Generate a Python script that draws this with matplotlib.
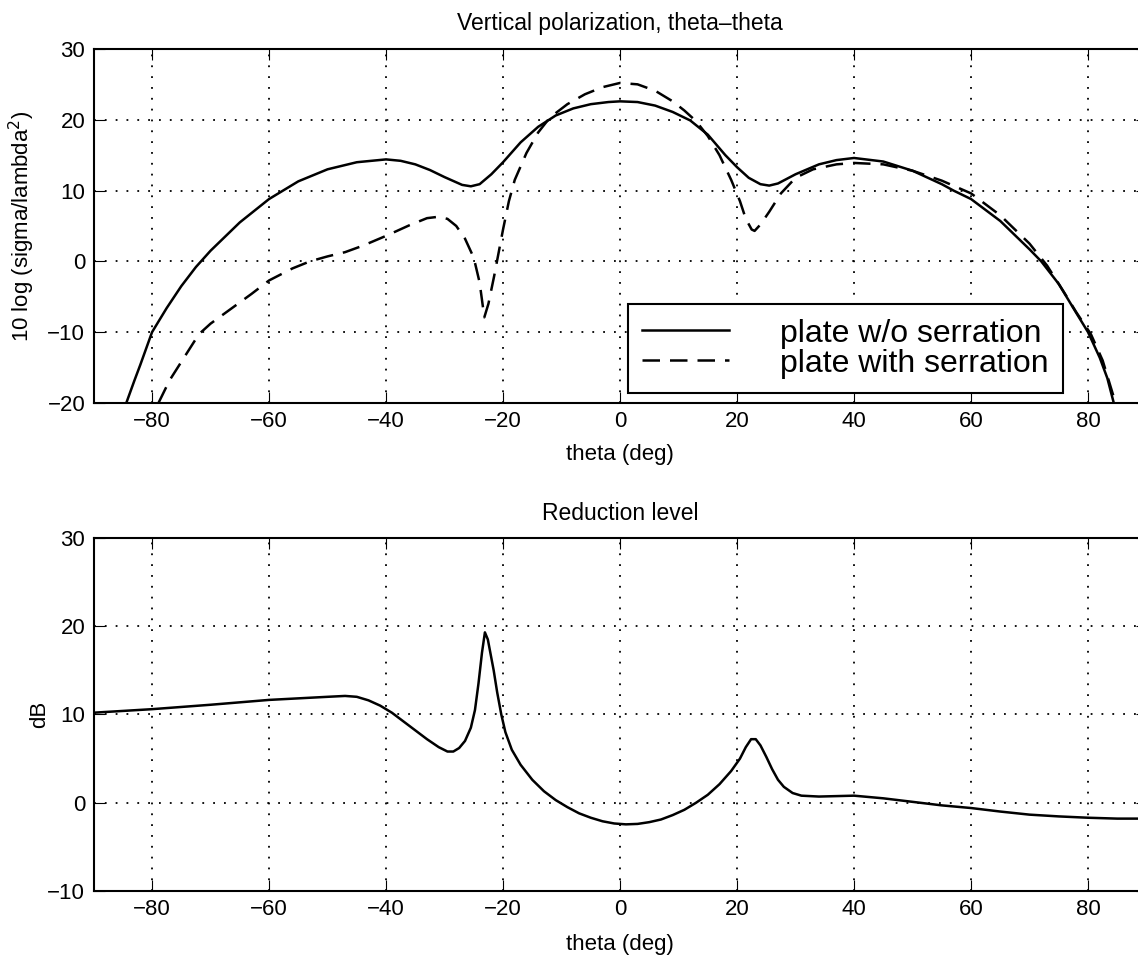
import numpy as np
import matplotlib
matplotlib.use('Agg')
import matplotlib.pyplot as plt
from matplotlib.lines import Line2D

plt.rcParams['font.family'] = ['Liberation Sans', 'DejaVu Sans']
plt.rcParams['font.size'] = 16
plt.rcParams['axes.linewidth'] = 1.5
plt.rcParams['xtick.direction'] = 'in'
plt.rcParams['ytick.direction'] = 'in'
plt.rcParams['xtick.top'] = True
plt.rcParams['ytick.right'] = True
plt.rcParams['xtick.major.size'] = 8
plt.rcParams['ytick.major.size'] = 8
plt.rcParams['xtick.major.pad'] = 6
plt.rcParams['ytick.major.pad'] = 6

# RCS of the plain plate (theta in deg, 10 log(sigma/lambda^2))
th_plain = [-84.4, -83, -82, -80, -77.5, -75, -72.5, -70, -65, -60, -55, -50,
            -45, -40, -37.5, -35, -32.5, -30, -27, -25.5, -24, -22, -20, -17, -14, -11, -8,
            -5, -2, 0, 3, 6, 9, 12, 15, 18, 20, 22, 24, 25.5, 27, 30, 34, 37,
            40, 45, 50, 55, 57, 60, 65, 70, 72, 75, 78, 80, 82, 83.3, 84.4]
val_plain = [-20, -16.8, -14.6, -10, -6.6, -3.5, -0.8, 1.5, 5.5, 8.8, 11.3, 13.0,
             14.0, 14.4, 14.2, 13.7, 12.9, 11.9, 10.8, 10.6, 10.9, 12.3, 14.0, 16.8, 19.0, 20.6, 21.6,
             22.2, 22.5, 22.6, 22.5, 22.0, 21.1, 19.9, 17.9, 15.0, 13.3, 11.8, 10.9, 10.7, 11.0, 12.3, 13.7, 14.3,
             14.6, 14.1, 12.8, 10.9, 10.0, 8.8, 5.7, 1.7, 0.0, -3.2, -7.3, -10.0, -13.6, -16.5, -20]

# RCS of the serrated plate
th_serr = [-78.9, -77, -75, -72, -70, -66, -63, -60, -56, -53, -50, -47, -44,
           -40, -36, -33, -31, -29.5, -28, -26.5, -25, -24, -23.2, -22.5, -21.5,
           -20, -19, -18, -16, -14, -12, -9, -6, -3, 0, 3, 6, 9, 11, 13, 15,
           17, 19, 20.5, 21.5, 22.5, 23, 24, 25.5, 27.5, 30, 33, 37, 40, 45,
           50, 55, 60, 65, 70, 73, 76, 78, 80.5, 82.5, 84.7]
val_serr = [-20, -16.8, -14.2, -10.3, -8.8, -6.4, -4.6, -2.7, -1.0, 0.0, 0.7, 1.3, 2.2,
            3.6, 5.1, 6.1, 6.3, 6.0, 5.0, 3.2, 0.5, -3.0, -7.9, -6.0, -2.0,
            4.5, 8.5, 11.5, 15.3, 18.2, 20.3, 22.2, 23.6, 24.6, 25.2, 25.0, 24.1, 22.6, 21.3, 19.8, 17.7,
            15.0, 11.5, 8.5, 6.0, 4.5, 4.3, 5.2, 7.0, 9.6, 11.8, 13.0, 13.7, 13.9, 13.7,
            12.8, 11.4, 9.6, 6.5, 2.5, -0.6, -4.5, -7.2, -10.3, -14.0, -20]

# reduction level (dB)
th_red = [-90, -80, -70, -60, -50, -47, -45, -43, -41, -39, -37, -35, -33, -31,
          -29.5, -28.5, -27.5, -26.5, -25.5, -24.8, -24.2, -23.6, -23.1, -22.6,
          -22.2, -21.6, -21, -20.3, -19.6, -18.5, -17, -15, -13, -11, -9, -7,
          -5, -3, -1, 1, 3, 5, 7, 9, 11, 13, 15, 17, 19, 20.5, 21.5, 22.4, 23.2,
          24, 25, 26, 27, 28, 29.5, 31, 34, 40, 45, 50, 55, 60, 65, 70, 75, 80,
          85, 90]
val_red = [10.2, 10.6, 11.1, 11.65, 12.0, 12.1, 12.0, 11.6, 11.0, 10.2, 9.2, 8.2, 7.2, 6.3,
           5.8, 5.8, 6.2, 7.0, 8.5, 10.5, 13.5, 17.0, 19.3, 18.5,
           17.1, 15.0, 12.5, 10.0, 8.0, 6.0, 4.3, 2.6, 1.3, 0.3, -0.5, -1.2,
           -1.7, -2.1, -2.35, -2.45, -2.4, -2.2, -1.9, -1.4, -0.8, 0.0, 0.9, 2.1, 3.6, 5.0, 6.3, 7.2, 7.2,
           6.5, 5.2, 3.8, 2.6, 1.8, 1.1, 0.8, 0.7, 0.8, 0.5, 0.1, -0.3, -0.6, -1.0, -1.35, -1.55, -1.7,
           -1.8, -1.8]

xticks = np.arange(-80, 81, 20)
grid_kw = dict(color='k', linestyle=(0, (1, 5)), linewidth=1.3)
dash = (0, (7, 4))

fig = plt.figure(figsize=(11.38, 9.56), dpi=100)

# top: scattering patterns
ax1 = fig.add_axes([0.0822, 0.5785, 0.9253, 0.3703])
ax1.plot(th_plain, val_plain, 'k-', lw=1.8)
ax1.plot(th_serr, val_serr, 'k', ls=dash, lw=1.8)
ax1.set_xlim(-90, 90)
ax1.set_ylim(-20, 30)
ax1.set_xticks(xticks)
ax1.set_yticks(np.arange(-20, 31, 10))
ax1.grid(True, **grid_kw)
ax1.set_title('Vertical polarization, theta\u2013theta', fontsize=16.5, pad=14)
ax1.set_xlabel('theta (deg)', fontsize=16)
ax1.set_ylabel('10 log (sigma/lambda$^2$)', fontsize=16)
ax1.yaxis.set_label_coords(-0.054, 0.5)
ax1.xaxis.set_label_coords(0.5, -0.115)

handles = [Line2D([], [], color='k', lw=1.8),
           Line2D([], [], color='k', lw=1.8, ls=dash)]
leg = ax1.legend(handles, ['plate w/o serration', 'plate with serration'],
                 loc='lower left', bbox_to_anchor=(0.5076, 0.028),
                 borderaxespad=0, fontsize=23, fancybox=False, framealpha=1,
                 edgecolor='k', handlelength=2.7, handletextpad=1.6,
                 labelspacing=0.0, borderpad=0.45)
leg.get_frame().set_linewidth(1.5)

# bottom: reduction level
ax2 = fig.add_axes([0.0822, 0.068, 0.9253, 0.3693])
ax2.plot(th_red, val_red, 'k-', lw=1.8)
ax2.set_xlim(-90, 90)
ax2.set_ylim(-10, 30)
ax2.set_xticks(xticks)
ax2.set_yticks(np.arange(-10, 31, 10))
ax2.grid(True, **grid_kw)
ax2.set_title('Reduction level', fontsize=16.5, pad=13)
ax2.set_xlabel('theta (deg)', fontsize=16)
ax2.set_ylabel('dB', fontsize=16)
ax2.yaxis.set_label_coords(-0.041, 0.5)
ax2.xaxis.set_label_coords(0.5, -0.122)

fig.savefig('out.png', dpi=100)
